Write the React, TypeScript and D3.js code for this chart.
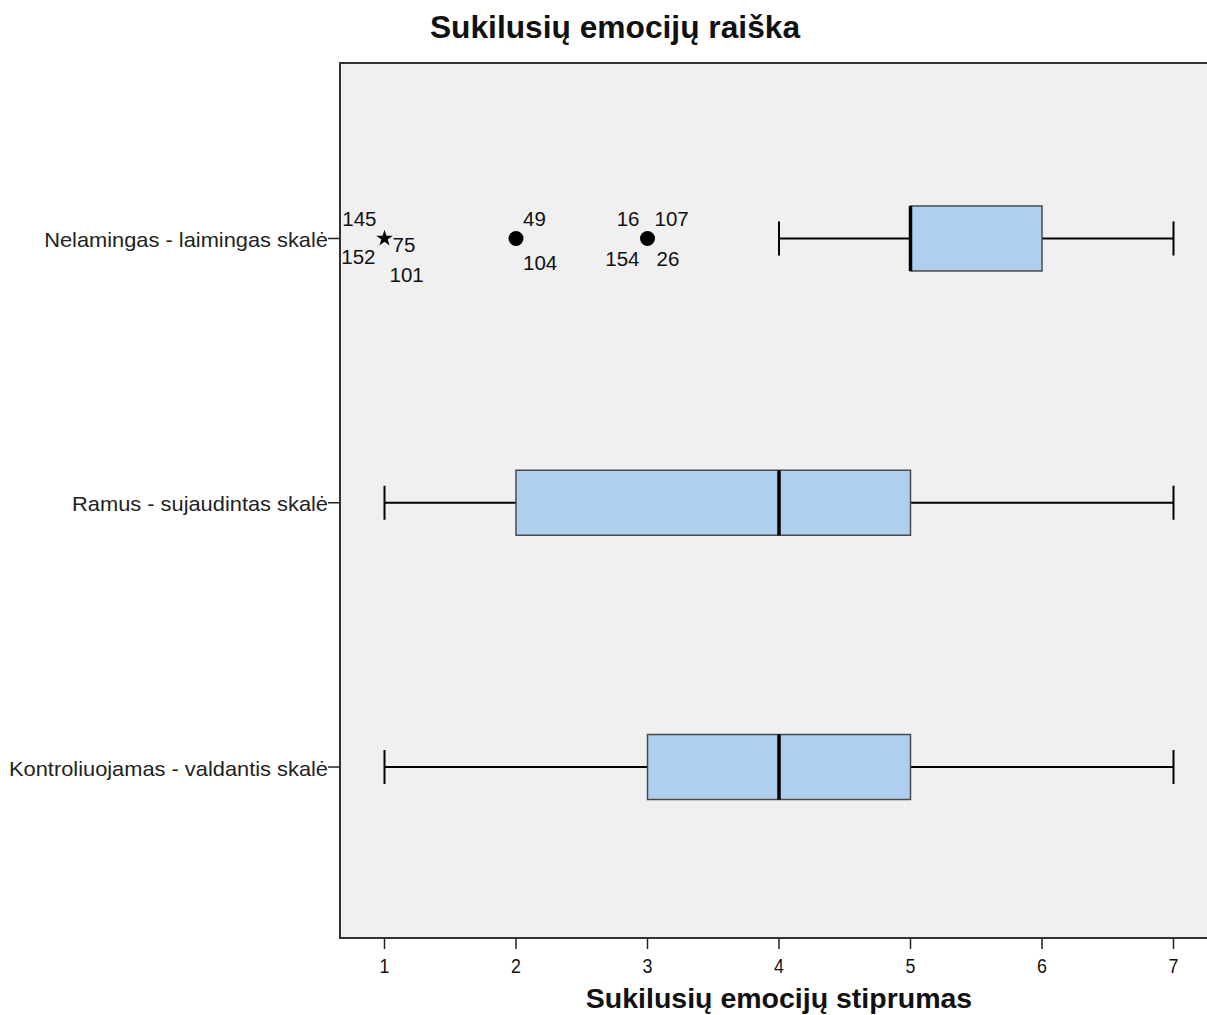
import React, { useEffect, useRef } from 'react';
import * as d3 from 'd3';

// chart values
const title = 'Sukilusių emocijų raiška';
const xTitle = 'Sukilusių emocijų stiprumas';
const categories = ['Nelamingas - laimingas skalė', 'Ramus - sujaudintas skalė', 'Kontroliuojamas - valdantis skalė'];
const whiskerLow = [4, 1, 1];
const q1 = [5, 2, 3];
const medians = [5, 4, 4];
const q3 = [6, 5, 5];
const whiskerHigh = [7, 7, 7];
const xTicks = [1, 2, 3, 4, 5, 6, 7];

// outliers of the first scale: value, marker type, case ids
const outlierValues = [1, 2, 3];
const outlierTypes = ['extreme', 'outlier', 'outlier'];
const outlierIds = [['145', '152', '75', '101'], ['49', '104'], ['16', '107', '154', '26']];

// label offsets around a marker, in order of ids
const labelOffsets: Record<string, [number, number, string][]> = {
  extreme: [[-8, -12, 'end'], [-9, 26, 'end'], [8, 14, 'start'], [5, 44, 'start']],
  outlier: [[7, -12, 'start'], [7, 32, 'start']],
  outlier4: [[-8, -12, 'end'], [7, -12, 'start'], [-8, 28, 'end'], [9, 28, 'start']],
};

const W = 1207;
const H = 1015;

const App = () => {
  const ref = useRef<SVGSVGElement>(null);

  useEffect(() => {
    const svg = d3.select(ref.current);
    svg.selectAll('*').remove();

    const left = 340, top = 63, right = 1240, bottom = 938;
    const font = 'Arial, "Liberation Sans", sans-serif';

    const x = d3.scaleLinear().domain([1, 7]).range([384.5, 1173.5]);
    const y = d3.scalePoint<string>().domain(categories).range([top + 4.5, bottom]).padding(0.647);

    svg.append('rect').attr('width', W).attr('height', H).attr('fill', '#ffffff');

    // plot background
    svg.append('rect')
      .attr('x', left).attr('y', top)
      .attr('width', right - left).attr('height', bottom - top)
      .attr('fill', '#f0f0f0')
      .attr('stroke', '#333').attr('stroke-width', 2);

    // title
    svg.append('text')
      .attr('transform', 'translate(615,38) scale(1.04,1)')
      .attr('text-anchor', 'middle')
      .attr('font-family', font).attr('font-size', 30.5).attr('font-weight', 'bold')
      .attr('fill', '#111')
      .text(title);

    // x axis
    const xAxis = svg.append('g').attr('transform', `translate(0,${bottom})`);
    xAxis.selectAll('line').data(xTicks).enter().append('line')
      .attr('x1', d => x(d)).attr('x2', d => x(d))
      .attr('y1', 1).attr('y2', 11)
      .attr('stroke', '#222').attr('stroke-width', 1.5);
    xAxis.selectAll('text').data(xTicks).enter().append('text')
      .attr('transform', d => `translate(${x(d)},35) scale(0.85,1)`)
      .attr('text-anchor', 'middle')
      .attr('font-family', font).attr('font-size', 21)
      .attr('fill', '#111')
      .text(d => d);
    svg.append('text')
      .attr('x', x(4)).attr('y', 1007.5)
      .attr('text-anchor', 'middle')
      .attr('font-family', font).attr('font-size', 28.5).attr('font-weight', 'bold')
      .attr('fill', '#111')
      .text(xTitle);

    // y axis
    const yAxis = svg.append('g');
    yAxis.selectAll('line').data(categories).enter().append('line')
      .attr('x1', left - 12).attr('x2', left)
      .attr('y1', d => y(d)!).attr('y2', d => y(d)!)
      .attr('stroke', '#222').attr('stroke-width', 1.5);
    yAxis.selectAll('text').data(categories).enter().append('text')
      .attr('transform', d => `translate(${left - 12},${y(d)! + 8.5}) scale(1.04,1)`)
      .attr('text-anchor', 'end')
      .attr('font-family', font).attr('font-size', 21)
      .attr('fill', '#222')
      .text(d => d);

    // boxes
    const boxH = 65;
    const capH = 34;
    const g = svg.append('g');
    categories.forEach((c, i) => {
      const cy = y(c)!;
      g.append('line')
        .attr('x1', x(whiskerLow[i])).attr('x2', x(q1[i]))
        .attr('y1', cy).attr('y2', cy)
        .attr('stroke', '#000').attr('stroke-width', 2);
      g.append('line')
        .attr('x1', x(q3[i])).attr('x2', x(whiskerHigh[i]))
        .attr('y1', cy).attr('y2', cy)
        .attr('stroke', '#000').attr('stroke-width', 2);
      [whiskerLow[i], whiskerHigh[i]].forEach(v => {
        g.append('line')
          .attr('x1', x(v)).attr('x2', x(v))
          .attr('y1', cy - capH / 2).attr('y2', cy + capH / 2)
          .attr('stroke', '#000').attr('stroke-width', 2);
      });
      g.append('rect')
        .attr('x', x(q1[i])).attr('y', cy - boxH / 2)
        .attr('width', x(q3[i]) - x(q1[i])).attr('height', boxH)
        .attr('fill', '#aecfee')
        .attr('stroke', '#4a4a4a').attr('stroke-width', 1.5);
      g.append('line')
        .attr('x1', x(medians[i])).attr('x2', x(medians[i]))
        .attr('y1', cy - boxH / 2).attr('y2', cy + boxH / 2)
        .attr('stroke', '#000').attr('stroke-width', 3.5);
    });

    // outliers
    const cy0 = y(categories[0])!;
    outlierValues.forEach((v, i) => {
      const cx = x(v);
      if (outlierTypes[i] === 'extreme') {
        g.append('path')
          .attr('d', d3.symbol().type(d3.symbolStar).size(85)())
          .attr('transform', `translate(${cx},${cy0})`)
          .attr('fill', '#000');
      } else {
        g.append('circle')
          .attr('cx', cx).attr('cy', cy0).attr('r', 7.5)
          .attr('fill', '#000');
      }
      const key = outlierTypes[i] === 'extreme' ? 'extreme' : (outlierIds[i].length === 4 ? 'outlier4' : 'outlier');
      outlierIds[i].forEach((id, j) => {
        const [dx, dy, anchor] = labelOffsets[key][j];
        g.append('text')
          .attr('x', cx + dx).attr('y', cy0 + dy)
          .attr('text-anchor', anchor)
          .attr('font-family', font).attr('font-size', 20.5)
          .attr('fill', '#111')
          .text(id);
      });
    });
  }, []);

  return (
    <div style={{ position: 'absolute', left: 0, top: 0 }}>
      <svg ref={ref} width={W} height={H} style={{ display: 'block' }} />
    </div>
  );
};

export default App;
